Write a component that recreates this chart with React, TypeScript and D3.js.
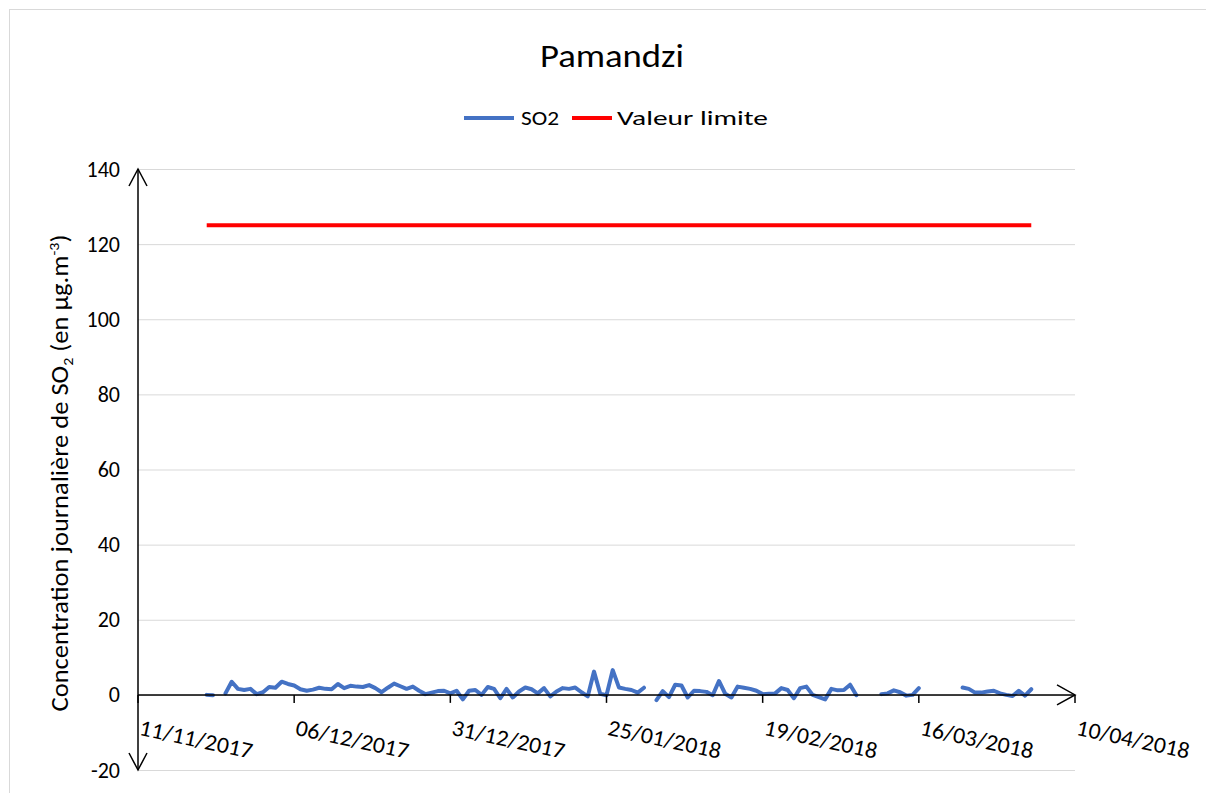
import React from "react";
import * as d3 from "d3";

const title = "Pamandzi";
const seriesNames = ["SO2", "Valeur limite"];
const seriesColors = ["#4472C4", "#FF0000"];
const xTickLabels = ["11/11/2017", "06/12/2017", "31/12/2017", "25/01/2018", "19/02/2018", "16/03/2018", "10/04/2018"];
const yTicks = [-20, 0, 20, 40, 60, 80, 100, 120, 140];
const firstDay = "22/11/2017";
const limitValue = 125;
// daily SO2 concentrations starting on firstDay (null = missing)
const so2Values: (number | null)[] = [
  0, -0.1, null, 0.4, 3.5, 1.6, 1.3, 1.6, 0.2, 0.7,
  2.1, 1.9, 3.5, 2.9, 2.5, 1.5, 1.1, 1.4, 1.9, 1.6,
  1.5, 2.9, 1.8, 2.4, 2.2, 2.1, 2.6, 1.8, 0.7, 1.9,
  3.0, 2.3, 1.6, 2.2, 1.1, 0.2, 0.6, 1.0, 1.1, 0.4,
  1.1, -1.2, 1.1, 1.3, 0, 2.1, 1.6, -0.9, 1.6, -0.7,
  0.9, 1.95, 1.5, 0.4, 1.8, -0.4, 0.9, 1.8, 1.6, 1.95,
  0.7, -0.4, 6.2, 0.3, -0.1, 6.6, 1.95, 1.6, 1.3, 0.6,
  1.9, null, -1.4, 1.0, -0.6, 2.7, 2.5, -0.7, 1.1, 1.0,
  0.8, -0.1, 3.7, 0.3, -0.7, 2.2, 1.9, 1.6, 1.1, 0.2,
  0.3, 0.4, 1.8, 1.3, -0.9, 1.8, 2.2, 0, -0.6, -1.2,
  1.6, 1.2, 1.3, 2.7, -0.1, null, null, null, 0.2, 0.4,
  1.2, 0.7, -0.2, 0, 1.8, null, null, null, null, null,
  null, 1.95, 1.6, 0.6, 0.6, 0.9, 1.1, 0.4, 0, -0.3,
  1.1, -0.2, 1.5,
];

const FONT = "Carlito, Calibri, Lato, 'Open Sans', sans-serif";

export default function App() {
  const W = 1206, H = 793;
  const parse = d3.utcParse("%d/%m/%Y");
  const tickDates = xTickLabels.map((s) => parse(s) as Date);
  const x = d3.scaleUtc().domain([tickDates[0], tickDates[tickDates.length - 1]]).range([138, 1075]);
  const y = d3.scaleLinear().domain([-20, 140]).range([770, 169]);
  const start = parse(firstDay) as Date;
  const so2 = so2Values.map((v, i) => ({ d: d3.utcDay.offset(start, i), v }));
  const limit = so2Values.map((_, i) => ({ d: d3.utcDay.offset(start, i), v: limitValue }));
  const line = d3
    .line<{ d: Date; v: number | null }>()
    .defined((p) => p.v !== null)
    .x((p) => x(p.d))
    .y((p) => y(p.v as number));
  const x0 = x.range()[0], x1 = x.range()[1];
  const yZero = y(0);
  return (
    <svg width={W} height={H} style={{ position: "absolute", left: 0, top: 0, background: "#fff" }} fontFamily={FONT}>
      <rect x={0} y={0} width={W} height={H} fill="#fff" />
      <rect x={9.5} y={9.5} width={1220} height={820} fill="#fff" stroke="#d9d9d9" strokeWidth={1} />
      <text x={612} y={67} textAnchor="middle" fontSize={33} fill="#000" textLength={144} lengthAdjust="spacingAndGlyphs">{title}</text>
      {/* legend */}
      <line x1={464} x2={514} y1={118} y2={118} stroke={seriesColors[0]} strokeWidth={4} />
      <text x={521} y={118} dominantBaseline="central" fontSize={21} textLength={38} lengthAdjust="spacingAndGlyphs">{seriesNames[0]}</text>
      <line x1={572} x2={612} y1={118} y2={118} stroke={seriesColors[1]} strokeWidth={4} />
      <text x={617} y={118} dominantBaseline="central" fontSize={21} textLength={151} lengthAdjust="spacingAndGlyphs">{seriesNames[1]}</text>
      {/* gridlines */}
      {yTicks.map((t) => (
        <line key={t} x1={x0} x2={x1} y1={y(t) + 0.5} y2={y(t) + 0.5} stroke="#d9d9d9" strokeWidth={1} />
      ))}
      {yTicks.map((t) => (
        <text key={"l" + t} x={120} y={y(t)} textAnchor="end" dominantBaseline="central" fontSize={22} fill="#000">{t}</text>
      ))}
      {/* series */}
      <path d={line(limit) || ""} fill="none" stroke={seriesColors[1]} strokeWidth={4} />
      <path d={line(so2) || ""} fill="none" stroke={seriesColors[0]} strokeWidth={4} strokeLinejoin="round" strokeLinecap="round" />
      {/* x axis */}
      <line x1={x0} x2={x1} y1={yZero} y2={yZero} stroke="#000" strokeWidth={1.5} />
      {tickDates.map((d, i) => (
        <line key={"t" + i} x1={x(d)} x2={x(d)} y1={yZero} y2={yZero + 8} stroke="#000" strokeWidth={1.5} />
      ))}
      <polyline points={`${x1 - 18},${yZero - 10} ${x1},${yZero} ${x1 - 18},${yZero + 10}`} fill="none" stroke="#000" strokeWidth={1.5} />
      {tickDates.map((d, i) => (
        <text key={"xl" + i} transform={`translate(${x(d) + 2},${727}) rotate(12)`} dominantBaseline="central" fontSize={23} textLength={115} lengthAdjust="spacingAndGlyphs">{xTickLabels[i]}</text>
      ))}
      {/* y axis */}
      <line x1={x0} x2={x0} y1={y(140)} y2={y(-20)} stroke="#000" strokeWidth={1.5} />
      <polyline points={`${x0 - 9},${y(140) + 17} ${x0},${y(140)} ${x0 + 9},${y(140) + 17}`} fill="none" stroke="#000" strokeWidth={1.5} />
      <polyline points={`${x0 - 9},${y(-20) - 17} ${x0},${y(-20)} ${x0 + 9},${y(-20) - 17}`} fill="none" stroke="#000" strokeWidth={1.5} />
      <text transform={`translate(68,473) rotate(-90)`} textAnchor="middle" fontSize={25} textLength={477} lengthAdjust="spacingAndGlyphs">
        Concentration journalière de SO<tspan fontSize={15} dy={5}>2</tspan><tspan dy={-5}> (en µg.m</tspan><tspan fontSize={15} dy={-9}>-3</tspan><tspan dy={9}>)</tspan>
      </text>
    </svg>
  );
}
